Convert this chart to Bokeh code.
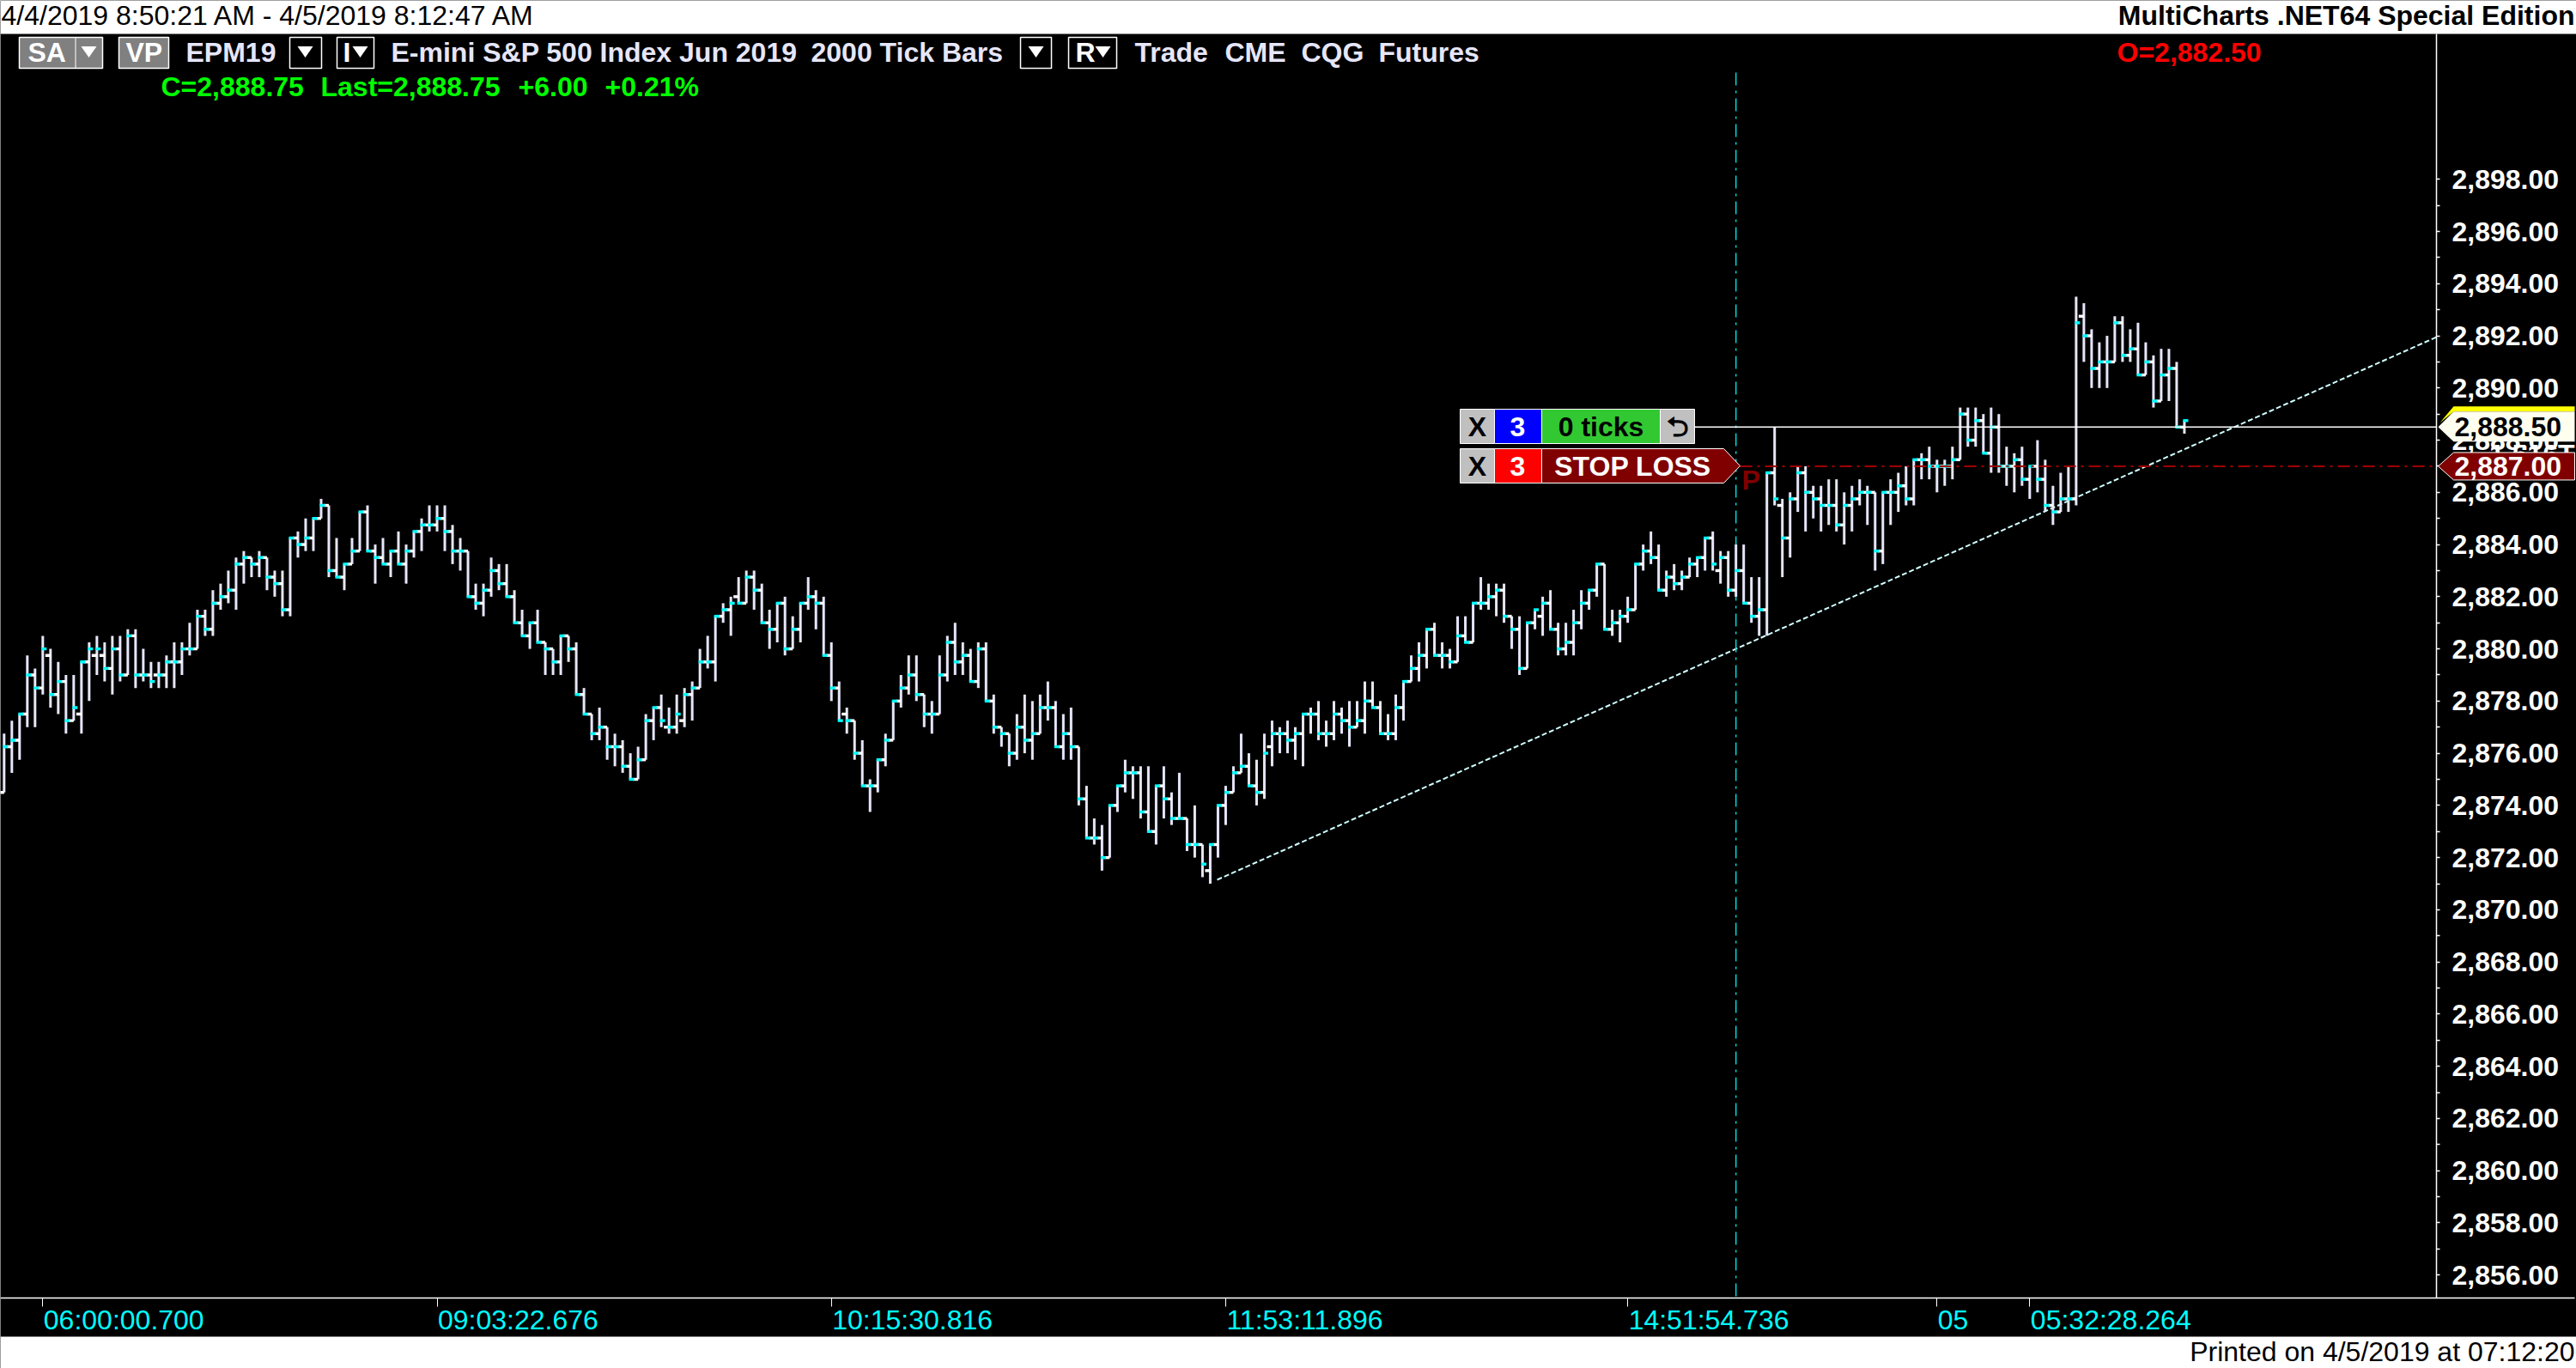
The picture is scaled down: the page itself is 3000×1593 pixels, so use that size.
from bokeh.plotting import figure
from bokeh.models import (BoxAnnotation, PolyAnnotation, Label, LinearAxis, FixedTicker,
                          NumeralTickFormatter, Range1d)
from bokeh.embed import file_html
from bokeh.resources import INLINE

opens = [
2874.5,2876.25,2876.5,2877.5,2879,2878.5,2879.75,2878.25,2878.75,2877.25,
2877.5,2879.5,2879.75,2879.75,2879.25,2880,2879,2880.5,2879,2879,
2879,2879,2879.5,2879.5,2880,2880,2881.25,2880.75,2881.75,2882,
2882.25,2883.25,2883.5,2883.25,2883.5,2882.75,2882.5,2881.5,2884.25,2884,
2884.25,2885,2885.5,2883,2882.75,2883.25,2883.75,2885.25,2883.75,2883.5,
2883.25,2883.75,2883.25,2883.75,2884.5,2884.75,2884.75,2885,2884.5,2883.75,
2883.75,2882,2881.75,2882.25,2883,2882.5,2882,2881,2880.5,2881,
2880.25,2880,2879.5,2880.5,2880,2878.25,2877.5,2876.75,2877,2876.25,
2876.25,2875.5,2875,2875.75,2877.25,2877.75,2877,2877,2877.25,2878.25,
2878.5,2879.5,2879.5,2881.25,2881.5,2882,2881.75,2882.75,2882.25,2881,
2880.75,2881.75,2880,2880.75,2881.75,2882,2881.75,2879.75,2878.5,2877.5,
2877.25,2876,2874.75,2874.75,2875.75,2876.5,2878,2878.5,2879,2878.25,
2877.5,2877.5,2879,2880.25,2879.5,2879.75,2878.75,2880,2878,2877,
2876.75,2876,2877,2876.5,2876.75,2877.75,2877.75,2876.25,2876.75,2876.25,
2874.25,2872.75,2872.75,2872,2874,2874.75,2875.25,2875.25,2873.75,2873,
2874.75,2874.25,2873.5,2873.5,2872.5,2872.5,2871.5,2872.5,2874,2874.5,
2875.25,2875.5,2874.75,2874.5,2876.25,2876.75,2876.75,2876.5,2876.75,2877.5,
2877.5,2876.75,2876.75,2877.5,2877.25,2877,2877.25,2878,2877.75,2876.75,
2876.75,2877.75,2878.75,2879.25,2879.75,2880.75,2879.75,2879.75,2879.5,2880.5,
2880.25,2881.75,2881.75,2882,2882.25,2881.25,2880.75,2879.25,2881,2881.25,
2881.75,2880.75,2880,2880.25,2881,2881.75,2882.25,2883.25,2880.75,2881,
2881.25,2881.5,2883.25,2883.75,2883.5,2882.25,2882.75,2882.5,2882.75,2883.25,
2883.5,2884.25,2883,2883.5,2882.25,2883,2881.75,2881.25,2881.5,2886.75,
2885.5,2884.25,2885.75,2886.75,2886,2885.75,2885.5,2885.5,2884.75,2885.5,
2885.75,2886,2886,2883.75,2886,2886,2886.25,2885.75,2887.25,2887.25,
2887,2887,2887,2887.25,2889,2888,2888.75,2887.5,2888.5,2887,
2887,2887.25,2886.5,2887,2886.5,2885.5,2885.25,2885.75,2885.75,2892.75,
2892,2890.75,2891,2891,2892.5,2891.25,2891.5,2890.5,2891,2889.5,
2890.5,2890.75,2888.5]

highs = [
2876.75,2877.25,2877.5,2879.75,2879.25,2880.5,2880,2879.5,2879,2879,
2879.5,2880.25,2880.5,2880.25,2880.5,2880.5,2880.75,2880.75,2880,2879.5,
2879.5,2879.75,2880.25,2880.25,2881,2881.5,2881.5,2882.25,2882.5,2883,
2883.5,2883.75,2883.5,2883.75,2883.5,2883,2883,2884.25,2884.5,2885,
2885,2885.75,2885.5,2884.25,2883.25,2884.25,2885.25,2885.5,2884,2884.25,
2883.75,2884.5,2884,2884.5,2885,2885.5,2885.5,2885.5,2884.75,2884.25,
2883.75,2882.5,2882.5,2883.5,2883.25,2883.25,2882.25,2881.5,2881,2881.5,
2880.25,2880,2880.5,2880.5,2880.25,2878.5,2877.5,2877.75,2877,2876.75,
2876.5,2876,2876.25,2877.5,2877.75,2878.25,2877.75,2878.25,2878.5,2878.75,
2880,2880.5,2881.25,2881.75,2882,2882.75,2883,2883,2882.5,2881.5,
2881.75,2882,2881.25,2881.75,2882.75,2882.25,2882,2880.25,2878.75,2877.75,
2877.25,2876.5,2875,2875.75,2876.75,2878,2879,2879.75,2879.75,2878.25,
2878,2879.75,2880.5,2881,2880.25,2880,2880.25,2880.25,2878.25,2877,
2876.75,2877.5,2878.25,2878,2878.25,2878.75,2878,2877.5,2877.75,2876.25,
2874.75,2873.5,2873.25,2874,2874.75,2875.75,2875.5,2875.5,2875.5,2874.75,
2875.5,2874.5,2875.25,2873.5,2874,2872.5,2872.5,2874,2874.75,2875.5,
2876.75,2876,2875.75,2876.75,2877.25,2877,2877.25,2877,2877.5,2877.75,
2878,2877.25,2878,2877.75,2878,2878,2878.75,2878.75,2878,2877.5,
2878.25,2878.75,2879.75,2880.25,2880.75,2881,2880.25,2880,2881.25,2881.25,
2881.75,2882.75,2882.5,2882.5,2882.5,2881.25,2881.25,2881,2881.5,2882,
2882.25,2881,2881,2881.5,2882.25,2882.25,2883.25,2883.25,2881.5,2881.5,
2882,2883.25,2884,2884.5,2884,2883,2883.25,2883,2883.5,2883.5,
2884.25,2884.5,2883.75,2883.75,2884,2884,2882.75,2882.75,2886.75,2888.5,
2885.75,2886,2887,2887,2886.25,2886.25,2886.5,2886.5,2886,2886.25,
2886.5,2886.25,2886,2886,2886.5,2886.75,2887,2887.25,2887.5,2887.75,
2887.25,2887.25,2887.75,2889.25,2889.25,2889.25,2889,2889.25,2889,2887.75,
2887.5,2887.75,2887,2888,2887.25,2886.25,2886.75,2887,2893.5,2893.25,
2892.25,2891.75,2892,2892.75,2892.75,2892.25,2892.5,2891.75,2891.25,2891.5,
2891.5,2891,2888.75]

lows = [
2874.5,2875.25,2875.75,2877,2877,2878.25,2877.75,2877.5,2876.75,2877.25,
2876.75,2878,2879,2878.75,2878.25,2878.75,2879,2878.5,2878.75,2878.5,
2878.5,2878.5,2878.5,2879,2879.75,2880,2880.5,2880.5,2881.5,2881.75,
2881.5,2882.5,2882.75,2882.75,2882.25,2882,2881.25,2881.25,2883.5,2883.75,
2883.75,2885,2882.75,2882.75,2882.25,2883.25,2883.75,2883.75,2882.5,2883.25,
2882.75,2883.25,2882.5,2883.5,2883.75,2884.5,2884.5,2883.75,2883.25,2883,
2882,2881.5,2881.25,2882,2882.25,2882,2881,2880.5,2880,2880.25,
2879,2879,2879,2879.5,2878.25,2877.5,2876.5,2876.5,2875.75,2875.5,
2875.25,2875,2875,2875.75,2876.5,2877,2876.75,2876.75,2877,2877.25,
2878.5,2879.25,2878.75,2881,2880.5,2881.75,2881.75,2881.5,2881,2880,
2880.25,2879.75,2880,2880.25,2881.5,2880.75,2879.75,2878,2877.25,2876.75,
2875.75,2874.75,2873.75,2874.5,2875.5,2876.5,2877.75,2878.25,2878,2877,
2876.75,2877.5,2878.75,2879,2879,2878.75,2878.5,2878,2876.75,2876.25,
2875.5,2875.75,2876,2875.75,2876.75,2877.25,2876.25,2875.75,2875.75,2874,
2872.75,2872.5,2871.5,2872,2873.75,2874.5,2874.25,2873.5,2873,2872.5,
2873.5,2873.25,2873.5,2872.25,2872,2871.25,2871,2872,2873.25,2874.5,
2875.25,2874.75,2874,2874.25,2875.5,2876,2876,2875.75,2875.5,2876.75,
2876.5,2876.25,2876.5,2876.75,2876.25,2877,2876.75,2877.75,2876.75,2876.5,
2876.5,2877.25,2878.75,2878.75,2879.25,2879.75,2879.25,2879.25,2879.5,2880.25,
2880.25,2881.5,2881.5,2881.25,2881,2880,2879,2879.25,2880.75,2880.5,
2880.75,2879.75,2879.75,2879.75,2880.75,2881.5,2882,2880.75,2880.5,2880.25,
2881,2881.5,2883,2883.25,2882.25,2882,2882.25,2882.25,2882.75,2882.75,
2883,2883,2882.5,2882,2882,2881.75,2881,2880.5,2880.5,2885.5,
2882.75,2883.5,2885.25,2884.5,2885,2884.5,2884.75,2884.5,2884,2884.5,
2885.5,2884.75,2883,2883.25,2884.75,2885.25,2885.5,2885.5,2886.5,2886.5,
2886,2886.25,2886.5,2887.25,2887.75,2887.75,2887.5,2886.75,2886.75,2886.25,
2886,2886.25,2885.75,2886,2885.25,2884.75,2885.25,2885.25,2885.5,2891,
2890,2890,2890,2891,2891,2891,2890.5,2890.5,2889.25,2889.5,
2889.5,2888.5,2888.25]

closes = [
2876.25,2876.5,2877.5,2879,2878.5,2880,2878.25,2878.75,2877.25,2877.75,
2879.5,2880,2880,2879.25,2880,2879,2880.5,2879,2879,2878.75,
2879,2879.5,2879.5,2880,2880,2881.25,2880.75,2881.75,2882,2882.25,
2883.25,2883.5,2883.25,2883.5,2882.75,2882.5,2881.5,2884.25,2884,2884.25,
2885,2885.5,2883,2882.75,2883.25,2883.75,2885.25,2883.75,2883.5,2883.25,
2883.75,2883.25,2883.75,2884.5,2884.75,2884.75,2885,2884.5,2883.75,2883.75,
2882,2881.75,2882.25,2883,2882.5,2882,2881,2880.5,2881,2880.25,
2880,2879.5,2880.5,2880,2878.25,2877.5,2876.75,2877,2876.25,2876.25,
2875.5,2875,2875.75,2877.25,2877.75,2877.25,2877,2877.5,2878.25,2878.5,
2879.5,2879.5,2881.25,2881.5,2881.75,2881.75,2882.75,2882.25,2881,2880.75,
2881.75,2880,2880.75,2881.75,2882,2881.75,2879.75,2878.5,2877.25,2877.25,
2876,2874.75,2874.75,2875.75,2876.5,2878,2878.5,2879,2878.25,2877.5,
2877.5,2879,2880.25,2879.5,2879.75,2878.75,2880,2878,2877,2876.75,
2876,2877,2876.5,2876.75,2877.75,2877.75,2876.25,2876.75,2876.25,2874.25,
2872.75,2872.75,2872,2874,2874.75,2875.25,2875.25,2873.75,2873,2874.75,
2874.25,2873.5,2873.5,2872.5,2872.5,2871.75,2872.5,2874,2874.5,2875.25,
2875.5,2874.75,2874.5,2876,2876.75,2876.75,2876.5,2876.75,2877.5,2877.5,
2876.75,2876.75,2877.5,2877.25,2877,2877.25,2878,2877.75,2876.75,2876.75,
2877.75,2878.75,2879.25,2879.75,2880.75,2879.75,2879.75,2879.5,2880.5,2880.25,
2881.75,2881.75,2882,2882.25,2881.25,2880.75,2879.25,2881,2881.5,2881.75,
2880.75,2880,2880.25,2881,2881.75,2882.25,2883.25,2880.75,2881,2881.25,
2881.5,2883.25,2883.75,2883.5,2882.25,2882.75,2882.5,2882.75,2883.25,2883.5,
2884.25,2883.25,2883.5,2882.25,2883,2881.75,2881.25,2881.5,2886.75,2885.75,
2884.25,2885.75,2886.75,2886,2885.75,2885.5,2885.5,2884.75,2885.5,2885.75,
2886,2886,2883.75,2886,2886,2886.25,2885.75,2887.25,2887.25,2887,
2887,2887,2887.25,2889,2888,2888.75,2887.5,2888.5,2887,2887,
2887.25,2886.5,2887,2886.5,2885.5,2885.25,2885.75,2885.75,2892.5,2892,
2890.75,2891,2891,2892.5,2891.25,2891.5,2890.5,2891,2889.5,2890.5,
2890.75,2888.5,2888.75]

price_ticks = [2856,2858,2860,2862,2864,2866,2868,2870,2872,2874,2876,2878,2880,
               2882,2884,2886,2888,2890,2892,2894,2896,2898]
price_minor = [2857,2859,2861,2863,2865,2867,2869,2871,2873,2875,2877,2879,2881,
               2883,2885,2887,2889,2891,2893,2895,2897]
time_ticks = [5, 56, 107, 158, 210, 250, 262]
time_labels = ["06:00:00.700","09:03:22.676","10:15:30.816","11:53:11.896",
               "14:51:54.736","05","05:32:28.264"]

FONT = "Liberation Sans"
W, H = 3000, 1593
FR, FT, FB = 2837, 39, 1511            # chart area inside the canvas
X0, DX = 4.3, 9.004                    # first bar centre, bar pitch in px
Y2890, PY = 451.3, 30.38               # px of 2890, px per point

def xd(px): return (px - X0) / DX
def yc(price): return Y2890 - (price - 2890) * PY
def yd(py): return 2890 + (Y2890 - py) / PY

p = figure(width=W, height=H, output_backend="svg", toolbar_location=None,
           x_range=Range1d(xd(0), xd(W)), y_range=Range1d(yd(H), yd(0)),
           x_axis_location=None, y_axis_location=None,
           min_border_left=0, min_border_right=0, min_border_top=0, min_border_bottom=0,
           background_fill_color="black", border_fill_color="black")
p.grid.visible = False
p.outline_line_color = None

ax_y = LinearAxis(ticker=FixedTicker(ticks=price_ticks, minor_ticks=price_minor),
                  formatter=NumeralTickFormatter(format="0,0.00"),
                  fixed_location=xd(FR), bounds=(yd(FB), yd(FT)),
                  axis_line_color="white", axis_line_width=1.5,
                  major_tick_line_color="white", major_tick_out=4, major_tick_in=0, major_tick_line_width=1.5,
                  minor_tick_line_color="white", minor_tick_out=4, minor_tick_in=0, minor_tick_line_width=1.5,
                  major_label_text_color="white", major_label_text_font=FONT,
                  major_label_text_font_style="bold",
                  major_label_text_font_size="32px", major_label_standoff=14)
p.add_layout(ax_y, "right")

ax_x = LinearAxis(ticker=FixedTicker(ticks=time_ticks),
                  major_label_overrides={t: "" for t in time_ticks},
                  fixed_location=yd(FB), bounds=(xd(0), xd(2998)),
                  axis_line_color="white", axis_line_width=1.5,
                  major_tick_line_color="white", major_tick_out=10, major_tick_in=0, major_tick_line_width=1,
                  minor_tick_line_color=None)
p.add_layout(ax_x, "below")

idx = list(range(len(closes)))
# trend line and cursor line
p.line([xd(1417), xd(FR)], [2871.15, 2891.95], line_color="#D0FFFF", line_width=2, line_dash="6 3")
p.line([224, 224], [yd(84), yd(FB)], line_color="#00D8D8", line_width=1.5, line_dash="15 6 3 6")

# OHLC bars
p.segment(idx, lows, idx, highs, line_color="#E6E6FA", line_width=3)
p.segment([i - 0.67 for i in idx], opens, idx, opens, line_color="white", line_width=3.4)
p.segment([i - 0.17 for i in idx], closes, [i + 0.5 for i in idx], closes, line_color="#00FFFF", line_width=3.4)

# position and stop levels
p.line([xd(1973), xd(FR)], [2888.5, 2888.5], line_color="white", line_width=1.5)
p.line([xd(2026), xd(FR)], [2887, 2887], line_color="#A00000", line_width=2, line_dash="14 6 3 6")

def box(l, t, r, b, color, line=None, lw=1):
    p.add_layout(BoxAnnotation(left=l, right=r, top=t, bottom=b,
                               left_units="canvas", right_units="canvas", top_units="canvas", bottom_units="canvas",
                               fill_color=color, fill_alpha=1, line_color=line, line_width=lw, line_alpha=1, level="overlay"))

def poly(xs, ys, color, line=None, lw=1):
    p.add_layout(PolyAnnotation(xs=xs, ys=ys, xs_units="canvas", ys_units="canvas",
                                fill_color=color, fill_alpha=1, line_color=line, line_width=lw, line_alpha=1, level="overlay"))

def txt(t, x, y, color, bold=True, align="left", size=32):
    p.add_layout(Label(x=x, y=y - 2, x_units="canvas", y_units="canvas", text=t, text_color=color,
                       text_font=FONT, text_font_size=f"{size}px", text_font_style="bold" if bold else "normal",
                       text_align=align, text_baseline="middle", level="overlay"))

def tri(cx, cy, half=9, h=13, color="white"):
    poly([cx - half, cx + half, cx], [cy - h / 2, cy - h / 2, cy + h / 2], color)

# time labels start at their tick
for t, lab in zip(time_ticks, time_labels):
    txt(lab, X0 + t * DX + 1, 1538, "#00FFFF", bold=False)

# page bands
box(0, 0, W, FT, "white")
box(0, 1556, W, H, "white")
txt("4/4/2019 8:50:21 AM - 4/5/2019 8:12:47 AM", 1, 19, "black", bold=False)
txt("MultiCharts .NET64 Special Edition", 2998, 19, "black", align="right", size=32)
txt("Printed on 4/5/2019 at 07:12:20", 2998, 1575, "black", bold=False, align="right")

# header row
LAV = "#E6E6FA"
box(22, 43, 119, 79, "#808080", "white", 1.5)
box(87, 43, 88, 79, "white")
txt("SA", 32, 62, "white")
tri(103, 60)
box(138, 43, 196, 79, "#808080", "white", 1.5)
txt("VP", 146, 62, "white")
txt("EPM19", 216, 62, LAV)
box(337, 43, 374, 79, "black", "white", 1.5)
tri(355, 60)
box(392, 43, 435, 79, "black", "white", 1.5)
txt("I", 399, 62, "white")
tri(419, 60)
txt("E-mini S&P 500 Index Jun 2019", 455, 62, LAV)
txt("2000 Tick Bars", 944, 62, LAV)
box(1188, 43, 1224, 79, "black", "white", 1.5)
tri(1206, 60)
box(1244, 43, 1300, 79, "black", "white", 1.5)
txt("R", 1252, 62, "white")
tri(1284, 60)
txt("Trade", 1321, 62, LAV)
txt("CME", 1426, 62, LAV)
txt("CQG", 1515, 62, LAV)
txt("Futures", 1605, 62, LAV)
txt("O=2,882.50", 2465, 62, "#FF0000")
txt("C=2,888.75", 187, 102, "#00FF00")
txt("Last=2,888.75", 373, 102, "#00FF00")
txt("+6.00", 603, 102, "#00FF00")
txt("+0.21%", 704, 102, "#00FF00")

# order widgets
box(1700, 476, 1740, 516, "#C0C0C0", "white", 1)
txt("X", 1720, 498, "black", align="center")
box(1740, 476, 1795, 516, "#0000FF", "white", 1)
txt("3", 1767, 498, "white", align="center")
box(1795, 476, 1933, 516, "#32C832", "white", 1)
txt("0 ticks", 1864, 498, "black", align="center")
box(1933, 476, 1973, 516, "#C0C0C0", "white", 1)
txt("\u2b8c", 1953, 498, "black", align="center", size=32)
box(1700, 522, 1740, 562, "#C0C0C0", "white", 1)
txt("X", 1720, 544, "black", align="center")
box(1740, 522, 1795, 562, "#FF0000", "white", 1)
txt("3", 1767, 544, "white", align="center")
poly([1795, 2007, 2026, 2007, 1795], [522, 522, 542, 562, 562], "#800000", "white", 1)
txt("STOP LOSS", 1901, 544, "white", align="center")
txt("P", 2028, 560, "#800000")

# price tags on the axis
txt("1.516T", 2998, 530, "white", align="right")
yb, yr = yc(2888.5), yc(2887)
poly([2841, 2857, 2998, 2998, 2857], [yb - 5, yb - 24, yb - 24, yb - 18, yb - 18], "#FFFF00")
poly([2839, 2857, 2998, 2998, 2857], [yb, yb - 18, yb - 18, yb + 17, yb + 17], "#FFFFF0")
txt("2,888.50", 2858, yb + 2, "black")
poly([2839, 2857, 2998, 2998, 2857], [yr, yr - 16, yr - 16, yr + 16, yr + 16], "#800000", "white", 1)
txt("2,887.00", 2858, yr + 2, "white")

open("out.html", "w").write(file_html(p, INLINE))
